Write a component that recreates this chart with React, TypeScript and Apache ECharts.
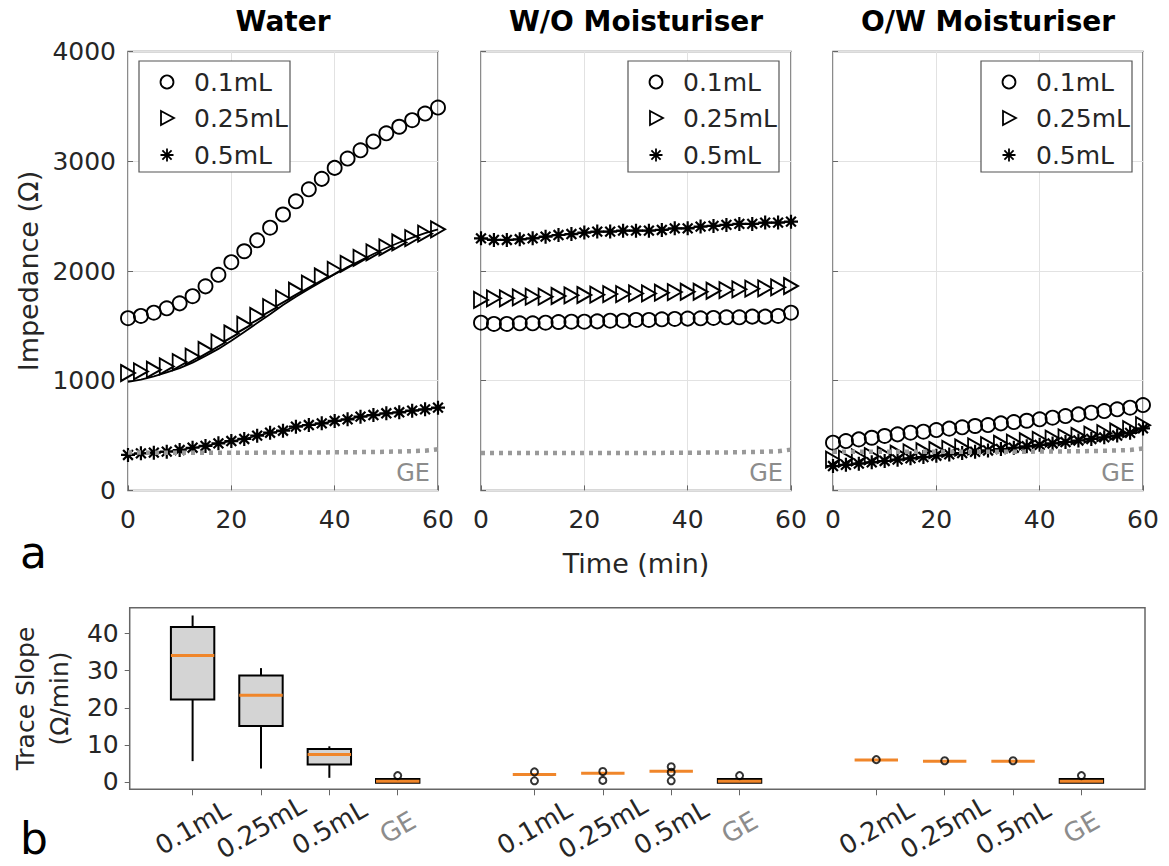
import React, { useEffect, useRef } from 'react';
import * as echarts from 'echarts';

// ---------- data ----------
const times = [0, 2.5, 5, 7.5, 10, 12.5, 15, 17.5, 20, 22.5, 25, 27.5, 30, 32.5, 35, 37.5, 40, 42.5, 45, 47.5, 50, 52.5, 55, 57.5, 60];

const water01 = [1570, 1590, 1620, 1660, 1705, 1770, 1860, 1965, 2080, 2180, 2280, 2395, 2515, 2635, 2745, 2840, 2940, 3025, 3100, 3180, 3255, 3315, 3375, 3435, 3490];
const water025 = [1070, 1085, 1100, 1130, 1170, 1220, 1280, 1350, 1430, 1510, 1590, 1670, 1750, 1820, 1885, 1950, 2010, 2065, 2120, 2170, 2215, 2260, 2300, 2340, 2380];
const water025Fit = [990, 1010, 1040, 1075, 1115, 1165, 1225, 1290, 1365, 1445, 1525, 1605, 1690, 1765, 1835, 1905, 1970, 2035, 2095, 2155, 2210, 2260, 2305, 2345, 2380];
const water05 = [323, 338, 344, 353, 368, 389, 405, 429, 450, 469, 499, 526, 544, 581, 596, 611, 633, 648, 672, 687, 703, 712, 727, 739, 754];
const waterGE = [345, 345, 344, 344, 344, 344, 344, 344, 344, 344, 344, 345, 345, 345, 345, 346, 347, 348, 349, 350, 352, 355, 358, 362, 375];

const wo01 = [1529, 1517, 1517, 1523, 1523, 1529, 1535, 1538, 1538, 1541, 1547, 1547, 1554, 1554, 1560, 1563, 1566, 1569, 1572, 1578, 1578, 1584, 1584, 1590, 1620];
const wo025 = [1736, 1751, 1751, 1760, 1766, 1766, 1772, 1778, 1781, 1784, 1790, 1790, 1796, 1796, 1802, 1808, 1811, 1811, 1820, 1826, 1833, 1839, 1842, 1851, 1863];
const wo05 = [2298, 2283, 2283, 2289, 2298, 2313, 2328, 2337, 2350, 2359, 2359, 2368, 2368, 2368, 2374, 2389, 2389, 2405, 2411, 2420, 2429, 2429, 2441, 2441, 2450];
const woGE = [340, 340, 340, 340, 340, 340, 340, 340, 340, 341, 341, 341, 341, 342, 342, 343, 343, 344, 345, 346, 348, 350, 353, 357, 372];

const ow01 = [435, 450, 465, 480, 496, 511, 526, 535, 550, 563, 575, 587, 596, 611, 623, 635, 648, 663, 678, 693, 708, 723, 739, 754, 778];
const ow025 = [280, 290, 301, 312, 323, 334, 346, 357, 368, 379, 391, 402, 413, 425, 436, 448, 460, 472, 484, 496, 509, 522, 537, 558, 595];
const ow05 = [222, 233, 244, 256, 268, 280, 292, 304, 316, 328, 340, 352, 364, 377, 389, 402, 415, 428, 441, 455, 469, 484, 500, 525, 565];
const owGE = [352, 352, 352, 352, 352, 352, 352, 352, 352, 352, 352, 352, 352, 353, 353, 353, 354, 355, 356, 357, 359, 361, 364, 368, 382];

const panelTitles = ['Water', 'W/O Moisturiser', 'O/W Moisturiser'];
const legendLabels = ['0.1mL', '0.25mL', '0.5mL'];

// box plot (Trace slope, Ω/min)
const boxPositions = [0, 1, 2, 3, 5, 6, 7, 8, 10, 11, 12, 13];
const boxLabels = ['0.1mL', '0.25mL', '0.5mL', 'GE', '0.1mL', '0.25mL', '0.5mL', 'GE', '0.2mL', '0.25mL', '0.5mL', 'GE'];
const boxMin = [5.6, 3.6, 1.1, -0.2, 2.0, 2.3, 2.9, -0.2, 5.9, 5.6, 5.6, -0.2];
const boxQ1 = [22.2, 15.1, 4.7, -0.2, 2.0, 2.3, 2.9, -0.2, 5.9, 5.6, 5.6, -0.2];
const boxMedian = [34.1, 23.4, 7.4, 0.2, 2.0, 2.3, 2.9, 0.2, 5.9, 5.6, 5.6, 0.2];
const boxQ3 = [41.8, 28.7, 8.9, 0.8, 2.0, 2.3, 2.9, 0.8, 5.9, 5.6, 5.6, 0.8];
const boxMax = [44.9, 30.7, 9.6, 0.8, 2.0, 2.3, 2.9, 0.8, 5.9, 5.6, 5.6, 0.8];
const outlierPositions = [3, 5, 5, 6, 6, 7, 7, 7, 8, 10, 11, 12, 13];
const outlierValues = [1.7, 2.7, 0.3, 2.8, 0.4, 4.1, 2.6, 0.3, 1.7, 6.0, 5.7, 5.7, 1.7];
const slopeTicks = [0, 10, 20, 30, 40];

// ---------- styling ----------
const FONT = 'DejaVu Sans';
const TXT = '#262626';
const GRAY_TXT = '#8c8c8c';
const BORDER = '#666';
const TRI = 'path://M0,0L12,7L0,14Z';
const AST = 'path://M6,0L6,12M0,6L12,6M1.8,1.8L10.2,10.2M1.8,10.2L10.2,1.8';
const AST_D = 'M0,-6.5L0,6.5M-6.5,0L6.5,0M-4.6,-4.6L4.6,4.6M-4.6,4.6L4.6,-4.6';

try {
  echarts.graphic.registerShape('asterisk', echarts.graphic.extendPath(AST_D, {}));
} catch (e) {
  // already registered
}

const panelLefts = [128, 481, 833];
const PANEL_W = 310;
const PANEL_TOP = 51.6;
const PANEL_H = 438.8;

function buildOption() {
  const mk = (arr: number[]) => times.map((t, i) => [t, arr[i]]);
  const panels = [
    { c: water01, t: water025, s: water05, ge: waterGE, fit: water025Fit },
    { c: wo01, t: wo025, s: wo05, ge: woGE, fit: null as number[] | null },
    { c: ow01, t: ow025, s: ow05, ge: owGE, fit: null as number[] | null },
  ];

  const grid: any[] = panelLefts.map((l) => ({
    left: l, top: PANEL_TOP, width: PANEL_W, height: PANEL_H,
    show: true, borderColor: BORDER, borderWidth: 1.5, backgroundColor: 'transparent',
  }));
  grid.push({ left: 126, top: 607.7, width: 1019, height: 181.6, show: true, borderColor: BORDER, borderWidth: 1.5, backgroundColor: 'transparent' });

  const xAxis: any[] = panelLefts.map((_, i) => ({
    gridIndex: i, type: 'value', min: 0, max: 60, interval: 20,
    axisLine: { show: false, onZero: false },
    axisTick: { show: true, inside: true, length: 5, lineStyle: { color: BORDER } },
    splitLine: { show: true, lineStyle: { color: '#e2e2e2', width: 1 } },
    axisLabel: { color: TXT, fontSize: 25, fontFamily: FONT, margin: 17, formatter: (v: number) => String(v) },
    name: i === 1 ? 'Time (min)' : '',
    nameLocation: 'middle', nameGap: 60,
    nameTextStyle: { color: TXT, fontSize: 27, fontFamily: FONT },
  }));
  xAxis.push({
    gridIndex: 3, type: 'value', min: -0.92, max: 13.93,
    axisLine: { show: false, onZero: false },
    splitLine: { show: false },
    axisTick: { show: true, customValues: boxPositions, length: 6, lineStyle: { color: BORDER } },
    axisLabel: {
      customValues: boxPositions, rotate: 30, align: 'center', verticalAlign: 'middle', margin: 38,
      formatter: (v: number) => {
        const i = boxPositions.indexOf(v);
        const l = i >= 0 ? boxLabels[i] : '';
        return l === 'GE' ? '{g|GE}' : '{n|' + l + '}';
      },
      rich: {
        n: { color: TXT, fontSize: 26, fontFamily: FONT },
        g: { color: GRAY_TXT, fontSize: 26, fontFamily: FONT },
      },
    },
  });

  const yAxis: any[] = panelLefts.map((_, i) => ({
    gridIndex: i, type: 'value', min: 0, max: 4000, interval: 1000,
    axisLine: { show: false, onZero: false },
    axisTick: { show: true, inside: true, length: 5, lineStyle: { color: BORDER } },
    splitLine: { show: true, lineStyle: { color: '#e2e2e2', width: 1 } },
    axisLabel: { show: i === 0, color: TXT, fontSize: 25, fontFamily: FONT, margin: 12, formatter: (v: number) => String(v) },
    name: i === 0 ? 'Impedance (Ω)' : '',
    nameLocation: 'middle', nameGap: 86,
    nameTextStyle: { color: TXT, fontSize: 27, fontFamily: FONT },
  }));
  yAxis.push({
    gridIndex: 3, type: 'value', min: -2, max: 47,
    axisLine: { show: false, onZero: false },
    splitLine: { show: false },
    axisTick: { show: true, customValues: slopeTicks, length: 5, lineStyle: { color: BORDER } },
    axisLabel: { customValues: slopeTicks, color: TXT, fontSize: 25, fontFamily: FONT, margin: 11, formatter: (v: number) => String(v) },
    name: 'Trace Slope\n(Ω/min)',
    nameLocation: 'middle', nameGap: 42,
    nameTextStyle: { color: TXT, fontSize: 25, fontFamily: FONT, lineHeight: 34 },
  });

  const series: any[] = [];
  panels.forEach((p, i) => {
    if (p.fit) {
      series.push({
        type: 'line', xAxisIndex: i, yAxisIndex: i, data: mk(p.fit), symbol: 'none',
        lineStyle: { color: '#000', width: 1.8 }, z: 3,
      });
    }
    series.push({
      name: legendLabels[0], type: 'line', xAxisIndex: i, yAxisIndex: i, data: mk(p.c),
      symbol: 'circle', symbolSize: 14,
      itemStyle: { color: 'rgba(0,0,0,0)', borderColor: '#000', borderWidth: 1.9 },
      lineStyle: { width: 0, opacity: 0 }, z: 3,
    });
    series.push({
      name: legendLabels[1], type: 'line', xAxisIndex: i, yAxisIndex: i, data: mk(p.t),
      symbol: TRI, symbolSize: [14, 16],
      itemStyle: { color: 'rgba(0,0,0,0)', borderColor: '#000', borderWidth: 1.9 },
      lineStyle: { width: 0, opacity: 0 }, z: 3,
    });
    series.push({
      name: legendLabels[2], type: 'line', xAxisIndex: i, yAxisIndex: i, data: mk(p.s),
      symbol: AST, symbolSize: 14,
      itemStyle: { color: 'rgba(0,0,0,0)', borderColor: '#000', borderWidth: 2.2 },
      lineStyle: { color: '#000', width: 1.6 }, z: 3,
    });
    series.push({
      name: 'GE', type: 'line', xAxisIndex: i, yAxisIndex: i, data: mk(p.ge), symbol: 'none',
      lineStyle: { color: '#999', width: 4.5, type: [4, 5] }, z: 4,
    });
  });

  const boxData = boxPositions.map((x, i) => [x, boxMin[i], boxQ1[i], boxMedian[i], boxQ3[i], boxMax[i]]);
  series.push({
    type: 'custom', xAxisIndex: 3, yAxisIndex: 3, data: boxData,
    encode: { x: 0, y: [1, 2, 3, 4, 5] },
    renderItem: (params: any, api: any) => {
      const x = api.value(0);
      const pMin = api.coord([x, api.value(1)]);
      const pQ1 = api.coord([x, api.value(2)]);
      const pMed = api.coord([x, api.value(3)]);
      const pQ3 = api.coord([x, api.value(4)]);
      const pMax = api.coord([x, api.value(5)]);
      const hw = 21.7;
      const children: any[] = [];
      if (api.value(5) > api.value(4)) {
        children.push({ type: 'line', shape: { x1: pMax[0], y1: pMax[1], x2: pQ3[0], y2: pQ3[1] }, style: { stroke: '#000', lineWidth: 2 } });
      }
      if (api.value(2) > api.value(1)) {
        children.push({ type: 'line', shape: { x1: pMin[0], y1: pMin[1], x2: pQ1[0], y2: pQ1[1] }, style: { stroke: '#000', lineWidth: 2 } });
      }
      if (api.value(4) > api.value(2)) {
        children.push({ type: 'rect', shape: { x: pQ3[0] - hw, y: pQ3[1], width: hw * 2, height: pQ1[1] - pQ3[1] }, style: { fill: '#d4d4d4', stroke: '#000', lineWidth: 2 } });
      }
      children.push({ type: 'line', shape: { x1: pMed[0] - hw, y1: pMed[1], x2: pMed[0] + hw, y2: pMed[1] }, style: { stroke: '#f0862a', lineWidth: 3 } });
      return { type: 'group', children };
    },
    z: 3,
  });
  series.push({
    type: 'scatter', xAxisIndex: 3, yAxisIndex: 3,
    data: outlierPositions.map((x, i) => [x, outlierValues[i]]),
    symbol: 'circle', symbolSize: 7,
    itemStyle: { color: 'rgba(0,0,0,0)', borderColor: '#000', borderWidth: 2 },
    z: 5,
  });

  const legendAt = (x: number, y: number) => ({
    type: 'group', x, y, z: 100,
    children: [
      { type: 'rect', z: 100, shape: { x: 0, y: 0, width: 151, height: 111 }, style: { fill: '#fff', stroke: '#555', lineWidth: 1.2 } },
      { type: 'circle', z: 101, shape: { cx: 28, cy: 21, r: 6.5 }, style: { fill: 'none', stroke: '#000', lineWidth: 1.8 } },
      { type: 'polygon', z: 101, shape: { points: [[22, 50], [35, 57], [22, 64]] }, style: { fill: 'none', stroke: '#000', lineWidth: 1.8 } },
      { type: 'asterisk', z: 101, x: 28, y: 94, style: { fill: 'none', stroke: '#000', lineWidth: 1.8 } },
      ...legendLabels.map((l, k) => ({
        type: 'text', z: 101, x: 55, y: [21, 57, 94][k],
        style: { text: l, font: `25px "${FONT}"`, fill: TXT, verticalAlign: 'middle' },
      })),
    ],
  });

  const graphic: any[] = [
    legendAt(139, 61), legendAt(628, 61), legendAt(981, 61),
    ...panelLefts.map((l) => ({
      type: 'text', x: l + PANEL_W - 8, y: 473, z: 100,
      style: { text: 'GE', font: `24px "${FONT}"`, fill: GRAY_TXT, align: 'right', verticalAlign: 'middle' },
    })),
    { type: 'text', x: 20, y: 552, style: { text: 'a', font: `44px "${FONT}"`, fill: '#000', verticalAlign: 'middle' } },
    { type: 'text', x: 20, y: 838, style: { text: 'b', font: `44px "${FONT}"`, fill: '#000', verticalAlign: 'middle' } },
  ];

  const title = panelTitles.map((t, i) => ({
    text: t, left: panelLefts[i] + PANEL_W / 2, top: 7, textAlign: 'center', padding: 0,
    textStyle: { color: '#000', fontSize: 28, fontWeight: 'bold', fontFamily: FONT },
  }));

  return {
    animation: false,
    backgroundColor: '#fff',
    textStyle: { fontFamily: FONT },
    title, grid, xAxis, yAxis, series, graphic,
  };
}

export default function App() {
  const ref = useRef<HTMLDivElement>(null);
  useEffect(() => {
    if (!ref.current) return;
    const chart = echarts.init(ref.current, null, { renderer: 'svg' });
    chart.setOption(buildOption() as any);
    return () => chart.dispose();
  }, []);
  return <div ref={ref} style={{ position: 'fixed', left: 0, top: 0, width: 1169, height: 866 }} />;
}
